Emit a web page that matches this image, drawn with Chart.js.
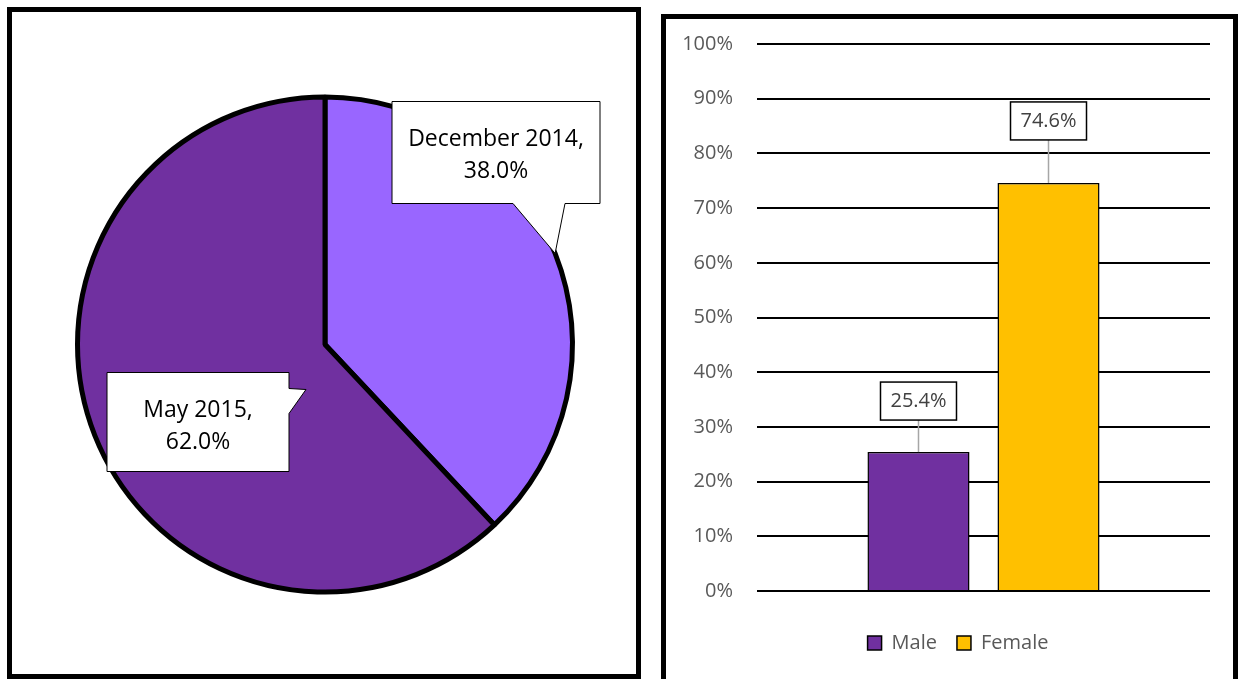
<!DOCTYPE html>
<html>
<head>
<meta charset="utf-8">
<script src="https://cdn.jsdelivr.net/npm/chart.js@4.4.0/dist/chart.umd.min.js"></script>
<style>
  body { margin: 0; background: #fff; overflow: hidden; }
  .panel { position: absolute; border: 5px solid #000; box-sizing: border-box; background: #fff; }
  #left { left: 7px; top: 7px; width: 634px; height: 672px; }
  #right { left: 661px; top: 14px; width: 577px; height: 680px; }
  canvas { display: block; }
</style>
</head>
<body>
<div id="left" class="panel"><canvas id="pie" width="624" height="662"></canvas></div>
<div id="right" class="panel"><canvas id="bar" width="567" height="660"></canvas></div>

<script>
// pie: survey rounds
const pieLabels = ['December 2014', 'May 2015'];
const pieValues = [38.0, 62.0];
const pieColors = ['#9966FF', '#7030A0'];

// bars: gender split
const barLabels = ['Male', 'Female'];
const barValues = [25.4, 74.6];
const barColors = ['#7030A0', '#FFC000'];
const yTickValues = [0, 10, 20, 30, 40, 50, 60, 70, 80, 90, 100];

Chart.defaults.font.family = "'Open Sans', sans-serif";
Chart.defaults.animation = false;

// callout shapes, offsets from pie centre (null = point on the slice edge)
const pieCallouts = [
  { pts: [[67, -243], [275, -243], [275, -141], [240, -141], null, [188, -141], [67, -141]], box: [67, -243, 275, -141] },
  { pts: [[-218, 28], [-36, 28], [-36, 44], [-19, 45], [-36, 69], [-36, 127], [-218, 127]], box: [-218, 28, -36, 127] }
];

const pieCalloutPlugin = {
  id: 'pieCallouts',
  afterDatasetsDraw(chart) {
    const ctx = chart.ctx;
    chart.getDatasetMeta(0).data.forEach((arc, i) => {
      const p = arc.getProps(['x', 'y', 'startAngle', 'endAngle', 'outerRadius'], true);
      const mid = (p.startAngle + p.endAngle) / 2;
      const c = pieCallouts[i];
      ctx.save();
      ctx.beginPath();
      c.pts.forEach((pt, k) => {
        const x = pt ? p.x + pt[0] : p.x + Math.cos(mid) * p.outerRadius;
        const y = pt ? p.y + pt[1] : p.y + Math.sin(mid) * p.outerRadius;
        if (k === 0) ctx.moveTo(x, y); else ctx.lineTo(x, y);
      });
      ctx.closePath();
      ctx.fillStyle = '#fff';
      ctx.fill();
      ctx.lineWidth = 1;
      ctx.strokeStyle = '#000';
      ctx.stroke();
      const tx = p.x + (c.box[0] + c.box[2]) / 2;
      const top = p.y + c.box[1];
      ctx.fillStyle = '#000';
      ctx.font = "23px 'Open Sans', sans-serif";
      ctx.textAlign = 'center';
      ctx.textBaseline = 'alphabetic';
      ctx.fillText(pieLabels[i] + ',', tx, top + 44);
      ctx.fillText(pieValues[i].toFixed(1) + '%', tx, top + 76);
      ctx.restore();
    });
  }
};

new Chart(document.getElementById('pie').getContext('2d'), {
  type: 'pie',
  data: {
    labels: pieLabels,
    datasets: [{
      data: pieValues,
      backgroundColor: pieColors,
      borderColor: '#000',
      borderWidth: 5
    }]
  },
  options: {
    responsive: false,
    layout: { padding: { left: 63, right: 61, top: 82, bottom: 79 } },
    plugins: { legend: { display: false }, tooltip: { enabled: false } }
  },
  plugins: [pieCalloutPlugin]
});

// boxed data labels with leader lines
const barLabelLift = [32, 43];
const barLabelPlugin = {
  id: 'barLabels',
  afterLayout(chart) {
    // nudge legend to sit where the original one does
    chart.legend.left += 15;
    chart.legend.right += 15;
  },
  afterDatasetsDraw(chart) {
    const ctx = chart.ctx;
    chart.data.datasets.forEach((ds, i) => {
      const bar = chart.getDatasetMeta(i).data[0];
      const w = 76, h = 38;
      const bottom = bar.y - barLabelLift[i];
      ctx.save();
      ctx.strokeStyle = '#a6a6a6';
      ctx.lineWidth = 1.5;
      ctx.beginPath();
      ctx.moveTo(bar.x, bottom);
      ctx.lineTo(bar.x, bar.y);
      ctx.stroke();
      ctx.fillStyle = '#fff';
      ctx.fillRect(bar.x - w / 2, bottom - h, w, h);
      ctx.strokeStyle = '#000';
      ctx.lineWidth = 1.5;
      ctx.strokeRect(bar.x - w / 2, bottom - h, w, h);
      ctx.fillStyle = '#404040';
      ctx.font = "20px 'Open Sans', sans-serif";
      ctx.textAlign = 'center';
      ctx.textBaseline = 'middle';
      ctx.fillText(ds.data[0].toFixed(1) + '%', bar.x, bottom - h / 2);
      ctx.restore();
    });
  }
};

new Chart(document.getElementById('bar').getContext('2d'), {
  type: 'bar',
  data: {
    labels: [''],
    datasets: barLabels.map((name, i) => ({
      label: name,
      data: [barValues[i]],
      backgroundColor: barColors[i],
      borderColor: '#000',
      borderWidth: 1.5,
      categoryPercentage: 0.574,
      barPercentage: 0.785
    }))
  },
  options: {
    responsive: false,
    layout: { padding: { left: 10, right: 23, top: 25, bottom: 16 } },
    scales: {
      x: {
        grid: { display: false },
        border: { display: false },
        ticks: { display: false },
        afterFit: s => { s.height = 22; }
      },
      y: {
        min: 0,
        max: 100,
        afterBuildTicks: s => { s.ticks = yTickValues.map(v => ({ value: v })); },
        afterFit: s => { s.width = 81; s.paddingTop = 0; s.paddingBottom = 0; },
        grid: { color: '#000', lineWidth: 2, drawTicks: false },
        border: { display: false },
        ticks: {
          padding: 24,
          color: '#595959',
          font: { size: 20 },
          callback: v => v + '%'
        }
      }
    },
    plugins: {
      tooltip: { enabled: false },
      legend: {
        position: 'bottom',
        labels: {
          color: '#595959',
          font: { size: 20 },
          boxWidth: 14,
          boxHeight: 14,
          padding: 20
        }
      }
    }
  },
  plugins: [barLabelPlugin]
});
</script>
</body>
</html>
